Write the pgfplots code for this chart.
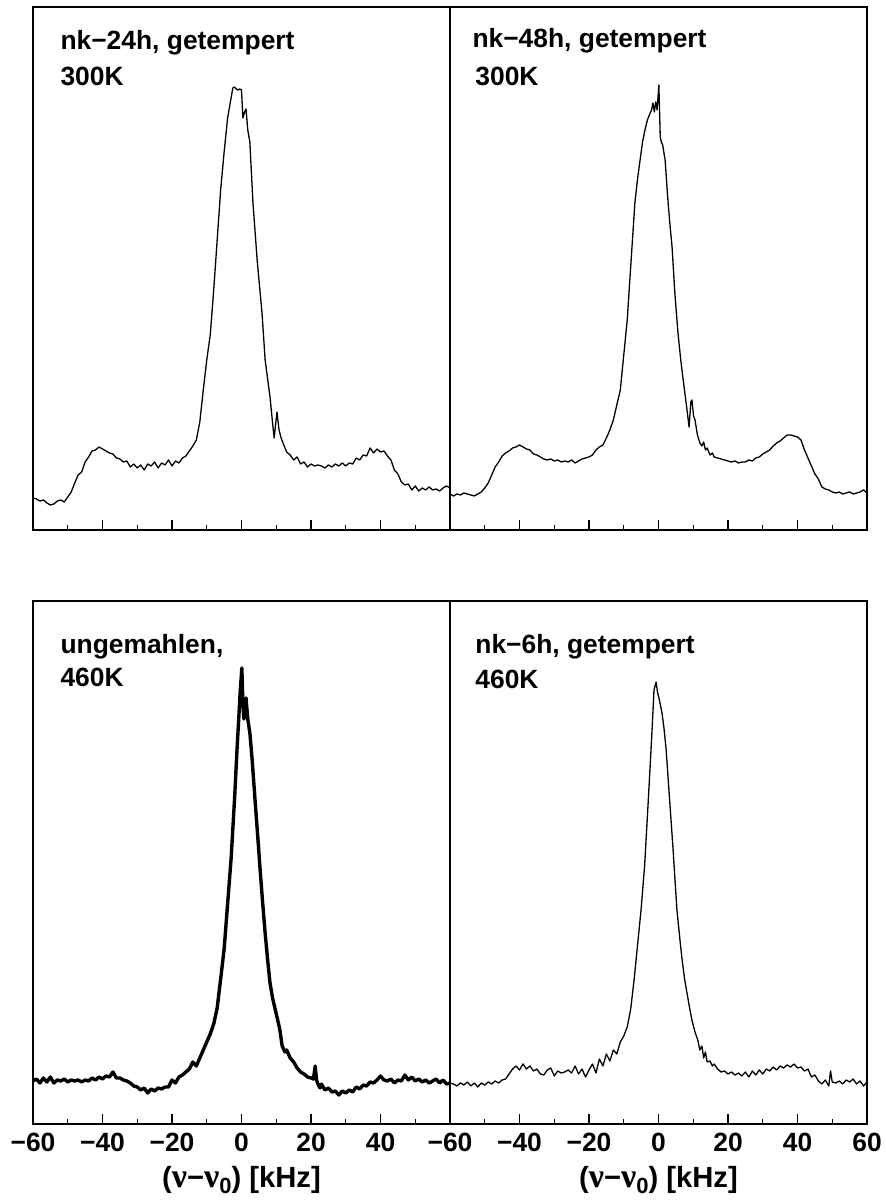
\documentclass[border=0pt]{standalone}
\usepackage{pgfplots}
\pgfplotsset{compat=1.18}
\usepackage{fontspec}
\setmainfont{Liberation Sans}
\newfontfamily\greekfont{Liberation Serif}

\tikzset{lbl/.style={anchor=base west, inner sep=0pt,
    font=\fontsize{13.2pt}{14pt}\selectfont\bfseries}}
\newcommand\nuv{{\greekfont\fontsize{17pt}{18pt}\selectfont ν}}

\pgfplotsset{
  panel/.style={
    scale only axis, width=208.5pt, height=261.5pt,
    xmin=-60, xmax=60, ymin=0, ymax=523,
    ytick=\empty,
    xtick={-60,-40,...,60}, minor xtick={-50,-30,...,50},
    xtick pos=bottom, tick align=inside,
    major tick length=5pt, minor tick length=2.5pt,
    every tick/.style={black, line width=0.6pt},
    axis line style={line width=0.6pt},
    every axis plot/.append style={black, line join=round},
    clip=true,
  },
  notick/.style={xticklabels={}},
  withticks/.style={
    xticklabel style={anchor=base, yshift=-14pt, inner sep=0pt,
      font=\fontsize{13.2pt}{14pt}\selectfont\bfseries},
    xlabel={(\nuv−\nuv\raisebox{-0.35ex}{\fontsize{11pt}{12pt}\selectfont 0}) [kHz]},
    xlabel style={at={(axis description cs:0.5,0)}, anchor=base, yshift=-32pt,
      font=\fontsize{14.6pt}{16pt}\selectfont\bfseries},
  },
}

\begin{document}
\begin{tikzpicture}
\useasboundingbox (0,0) rectangle (442.5pt,601pt);

% nk-24h, getempert, 300K
\begin{axis}[panel, notick, at={(16.5pt,336pt)}, anchor=south west]
\addplot[line width=0.65pt] coordinates {
(-60,32)(-59,31)(-58,29)(-57,30)(-56,27)(-55,25)(-54,26)(-53,29)(-52,30)(-51,28)
(-50,33)(-49,38)(-48,47)(-47,55)(-46,58)(-45,68)(-44,73)(-43,79)(-42,80)(-41,83)
(-40,81)(-39,79)(-38,77)(-37,76)(-36,72)(-35,71)(-34,68)(-33,69)(-32,63)(-31,66)
(-30,62)(-29,65)(-28,60)(-27,66)(-26,64)(-25,68)(-24,62)(-23,67)(-22,65)(-21,70)
(-20,64)(-19,69)(-18,67)(-17,72)(-16,74)(-15,79)(-14,84)(-13,90)(-12,108)(-11,140)
(-10,170)(-9,195)(-8,240)(-7,290)(-6,340)(-5,378)(-4,412)(-3,432)(-2.5,442)(-2,443)
(-1.5,441)(-1,440)(-0.5,441)(0,440)(0.4,412)(0.9,418)(1.3,421)(1.8,400)(2.4,388)
(3.3,327)(4.5,270)(5.9,217)(6.8,170)(8.2,133)(9,105)(9.4,92)(10.2,118)(10.8,100)
(11.4,92)(12.5,82)(13,78)(14,75)(15,70)(16,73)(17,66)(18,68)(19,63)(20,66)
(21,64)(22,65)(23,64)(24,62)(25,65)(26,63)(27,66)(28,64)(29,67)(30,64)
(31,67)(32,66)(33,72)(34,70)(35,75)(36,74)(37,82)(38,77)(39,81)(40,78)
(41,79)(42,74)(43,70)(44,60)(45,56)(46,48)(47,45)(48,46)(49,40)(50,44)
(51,39)(52,42)(53,40)(54,43)(55,40)(56,41)(57,39)(58,42)(59,44)(60,42)
};
\node[lbl] at (rel axis cs:0.065,0.918) {nk−24h, getempert};
\node[lbl] at (rel axis cs:0.065,0.849) {300K};
\end{axis}

% nk-48h, getempert, 300K
\begin{axis}[panel, notick, at={(225pt,336pt)}, anchor=south west]
\addplot[line width=0.65pt] coordinates {
(-60,36)(-59,34)(-58,36)(-57,35)(-56,37)(-55,36)(-54,35)(-53,34)(-52,36)(-51,38)
(-50,42)(-49,47)(-48,55)(-47,63)(-46,68)(-45,74)(-44,77)(-43,79)(-42,82)(-41,83)
(-40,85)(-39,83)(-38,81)(-37,80)(-36,76)(-35,75)(-34,73)(-33,71)(-32,70)(-31,71)
(-30,69)(-29,70)(-28,68)(-27,69)(-26,68)(-25,70)(-24,67)(-23,69)(-22,71)(-21,72)
(-20,73)(-19,75)(-18,80)(-17,83)(-16,85)(-15,92)(-14,100)(-13,110)(-12,125)(-11,140)
(-10,175)(-9,210)(-8.2,253)(-7.5,290)(-6.8,327)(-6,352)(-5.3,370)(-4.6,388)(-3.9,400)
(-3.2,410)(-2.4,417)(-2,420)(-1.6,427)(-1.2,418)(-0.8,428)(-0.4,420)(0.1,445)
(0.5,393)(0.8,388)(1.2,385)(1.9,370)(2.7,330)(3.3,305)(3.9,283)(4.7,237)(5.6,197)
(6.4,170)(7.1,150)(8.2,120)(8.8,103)(9.3,128)(9.6,130)(10.1,114)(10.5,110)(11.2,95)
(11.9,87)(12.5,84)(13,88)(13.5,80)(14,82)(14.8,75)(15.5,77)(16,73)(17,72)(18,71)
(19,70)(20,69)(21,68)(22,69)(23,67)(24,68)(25,68)(26,70)(27,69)(28,72)
(29,73)(30,76)(31,78)(32,80)(33,84)(34,87)(35,89)(36,92)(37,95)(38,95)
(39,94)(40,93)(41,90)(42,80)(43,72)(44,64)(45,56)(46,51)(47,43)(48,41)
(49,40)(50,38)(51,37)(52,38)(53,36)(54,37)(55,38)(56,36)(57,37)(58,38)
(59,40)(60,37)
};
\node[lbl] at (rel axis cs:0.053,0.922) {nk−48h, getempert};
\node[lbl] at (rel axis cs:0.060,0.849) {300K};
\end{axis}

% ungemahlen, 460K
\begin{axis}[panel, withticks, at={(16.5pt,39pt)}, anchor=south west,
  xticklabels={−60,−40,−20,0,20,40,{}}]
\addplot[line width=1.7pt] coordinates {
(-60,43)(-59,45)(-58,41)(-57,46)(-56,42)(-55,47)(-54,41)(-53,44)(-52,43)(-51,45)
(-50,42)(-49,44)(-48,43)(-47,44)(-46,42)(-45,44)(-44,43)(-43,46)(-42,44)(-41,47)
(-40,45)(-39,48)(-38,47)(-37,52)(-36,46)(-35,46)(-34,44)(-33,43)(-32,41)(-31,38)
(-30,37)(-29,34)(-28,36)(-27,31)(-26,35)(-25,33)(-24,36)(-23,35)(-22,37)(-21,37)
(-20,44)(-19,41)(-18,47)(-17,49)(-16,52)(-15,55)(-14,62)(-13,58)(-12,66)(-11,74)
(-10,82)(-9,90)(-8,100)(-7,116)(-6,145)(-5,175)(-4,220)(-3,265)(-2,325)(-1.3,374)
(-0.8,405)(-0.4,431)(0.1,456)(0.4,420)(0.7,405)(1.0,415)(1.3,426)(1.8,405)(2.4,391)
(3,367)(3.9,324)(5,272)(5.3,257)(6,225)(6.8,191)(7.5,165)(8.2,141)(9,125)(10.2,107)
(11,95)(11.7,78)(12.5,72)(13,74)(14,66)(15,62)(16,56)(17,52)(18,50)(19,47)
(20,46)(20.7,45)(21.2,58)(21.6,44)(22,40)(22.6,36)(23,40)(24,34)(25,36)(26,32)
(27,33)(28,29)(29,33)(30,31)(31,34)(32,32)(33,37)(34,35)(35,39)(36,38)
(37,42)(38,41)(39,44)(40,48)(41,44)(42,43)(43,45)(44,41)(45,44)(46,43)
(47,49)(48,44)(49,47)(50,43)(51,45)(52,42)(53,44)(54,41)(55,43)(56,45)
(57,41)(58,44)(59,40)(60,41)
};
\node[lbl] at (rel axis cs:0.065,0.900) {ungemahlen,};
\node[lbl] at (rel axis cs:0.065,0.836) {460K};
\end{axis}

% nk-6h, getempert, 460K
\begin{axis}[panel, withticks, at={(225pt,39pt)}, anchor=south west,
  xticklabels={−60,−40,−20,0,20,40,60}]
\addplot[line width=0.65pt] coordinates {
(-60,41)(-59,40)(-58,38)(-57,41)(-56,39)(-55,42)(-54,38)(-53,41)(-52,37)(-51,41)
(-50,39)(-49,42)(-48,40)(-47,43)(-46,41)(-45,44)(-44,45)(-43,50)(-42,55)(-41,58)
(-40,54)(-39,60)(-38,55)(-37,58)(-36,53)(-35,55)(-34,50)(-33,49)(-32,54)(-31,56)
(-30,48)(-29,53)(-28,51)(-27,52)(-26,54)(-25,51)(-24,58)(-23,50)(-22,55)(-21,47)
(-20,54)(-19,60)(-18,51)(-17,65)(-16,58)(-15,70)(-14,63)(-13,74)(-12,70)(-11,82)
(-10,88)(-9,97)(-8,115)(-7,145)(-6,180)(-5,215)(-4,258)(-3,320)(-2.3,365)(-1.9,391)
(-1.3,434)(-0.7,442)(-0.3,432)(0.2,425)(1,411)(1.6,395)(2.2,374)(3,334)(4.2,274)
(5.3,214)(6.2,183)(6.8,164)(7.5,145)(8.2,131)(9,115)(9.6,104)(10.5,92)(11.3,84)
(11.9,74)(12.5,78)(13,66)(13.5,72)(14,62)(14.8,63)(15.5,58)(16,60)(17,55)(18,52)
(19,53)(20,50)(21,52)(22,49)(23,51)(24,48)(25,52)(26,47)(27,53)(28,49)
(29,54)(30,50)(31,55)(32,53)(33,57)(34,54)(35,58)(36,56)(37,59)(38,57)
(39,60)(40,56)(41,57)(42,53)(43,55)(44,47)(45,49)(46,43)(47,40)(48,44)
(49,38)(49.5,53)(50,42)(51,41)(52,43)(53,40)(54,44)(55,42)(56,45)(57,40)
(58,43)(59,38)(60,42)
};
\node[lbl] at (rel axis cs:0.060,0.900) {nk−6h, getempert};
\node[lbl] at (rel axis cs:0.060,0.832) {460K};
\end{axis}
\end{tikzpicture}
\end{document}
